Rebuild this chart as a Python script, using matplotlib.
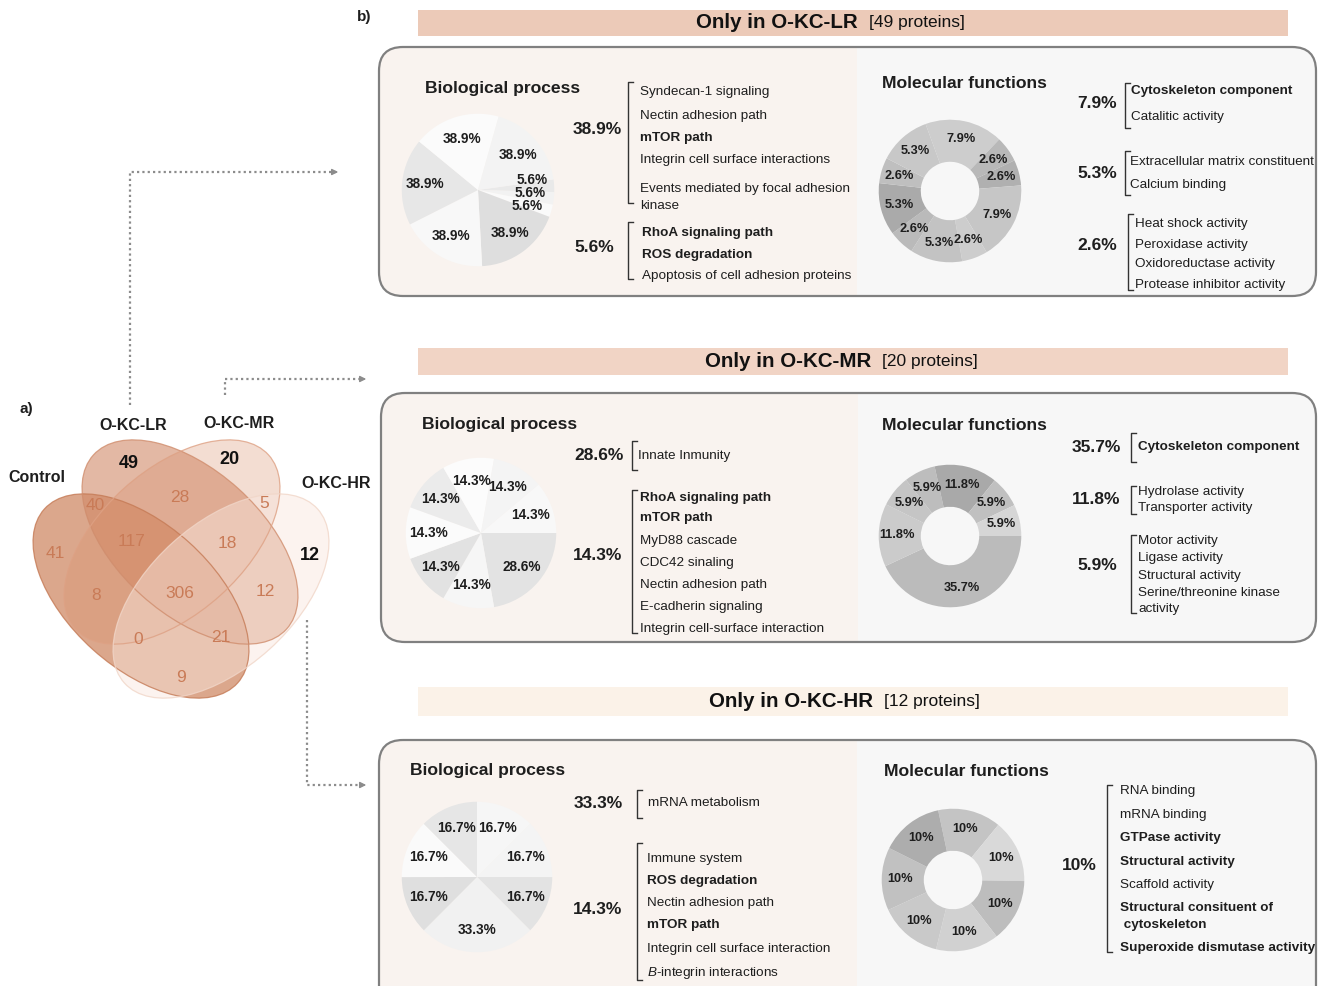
import matplotlib
matplotlib.use("Agg")
import matplotlib.pyplot as plt
from matplotlib.patches import Ellipse, FancyBboxPatch, Rectangle

plt.rcParams["font.family"] = ["Liberation Sans", "DejaVu Sans"]
plt.rcParams["mathtext.fontset"] = "custom"
plt.rcParams["mathtext.rm"] = "Liberation Sans"
plt.rcParams["mathtext.it"] = "Liberation Sans:italic"

W, H = 1318, 986

# ---------------- data ----------------
venn_sets = ["Control", "O-KC-LR", "O-KC-MR", "O-KC-HR"]
venn_only = [41, 49, 20, 12]
venn_shared = [40, 28, 5, 117, 18, 8, 306, 12, 0, 21, 9]

groups = ["O-KC-LR", "O-KC-MR", "O-KC-HR"]
group_n = [49, 20, 12]

lr_bp_pct = [5.6, 5.6, 5.6, 38.9, 38.9, 38.9, 38.9, 38.9]
lr_mf_pct = [7.9, 2.6, 2.6, 7.9, 2.6, 5.3, 2.6, 5.3, 2.6, 5.3]
mr_bp_pct = [28.6, 14.3, 14.3, 14.3, 14.3, 14.3, 14.3, 14.3]
mr_mf_pct = [35.7, 11.8, 5.9, 5.9, 11.8, 5.9, 5.9]
hr_bp_pct = [16.7, 16.7, 16.7, 33.3, 16.7, 16.7, 16.7]
hr_mf_pct = [10, 10, 10, 10, 10, 10, 10]

# (percentage, [(term, bold)])
lr_bp_terms = [
    (38.9, [("Syndecan-1 signaling", False), ("Nectin adhesion path", False),
            ("mTOR path", True), ("Integrin cell surface interactions", False),
            ("Events mediated by focal adhesion\nkinase", False)]),
    (5.6, [("RhoA signaling path", True), ("ROS degradation", True),
           ("Apoptosis of cell adhesion proteins", False)]),
]
lr_mf_terms = [
    (7.9, [("Cytoskeleton component", True), ("Catalitic activity", False)]),
    (5.3, [("Extracellular matrix constituent", False), ("Calcium binding", False)]),
    (2.6, [("Heat shock activity", False), ("Peroxidase activity", False),
           ("Oxidoreductase activity", False), ("Protease inhibitor activity", False)]),
]
mr_bp_terms = [
    (28.6, [("Innate Inmunity", False)]),
    (14.3, [("RhoA signaling path", True), ("mTOR path", True), ("MyD88 cascade", False),
            ("CDC42 sinaling", False), ("Nectin adhesion path", False),
            ("E-cadherin signaling", False), ("Integrin cell-surface interaction", False)]),
]
mr_mf_terms = [
    (35.7, [("Cytoskeleton component", True)]),
    (11.8, [("Hydrolase activity", False), ("Transporter activity", False)]),
    (5.9, [("Motor activity", False), ("Ligase activity", False), ("Structural activity", False),
           ("Serine/threonine kinase\nactivity", False)]),
]
hr_bp_terms = [
    (33.3, [("mRNA metabolism", False)]),
    (14.3, [("Immune system", False), ("ROS degradation", True), ("Nectin adhesion path", False),
            ("mTOR path", True), ("Integrin cell surface interaction", False),
            (r"$\mathit{B}$-integrin interactions", False)]),
]
hr_mf_terms = [
    (10, [("RNA binding", False), ("mRNA binding", False), ("GTPase activity", True),
          ("Structural activity", True), ("Scaffold activity", False),
          ("Structural consituent of\n cytoskeleton", True),
          ("Superoxide dismutase activity", True)]),
]

# ---------------- styles / layout ----------------
venn_set_xy = [(37, 478), (133, 426), (239, 423), (336, 484)]
venn_only_xy = [(55, 553), (129, 464), (229, 460), (310, 556)]
venn_shared_xy = [(95, 506), (180, 497), (264, 503), (132, 542), (227, 543), (96, 596),
                  (180, 593), (265, 592), (138, 640), (221, 638), (181, 678)]
# ellipse centre, semi-axes, angle, fill, alpha, edge
venn_shapes = [
    ((141, 596), 130, 72, 42, "#cd8560", 0.72, "#c57a55"),
    ((190, 542), 130, 72, 42, "#d18a68", 0.60, "#d08d6d"),
    ((172, 542), 130, 72, -42, "#d9906c", 0.30, "#dea184"),
    ((221, 596), 130, 72, -42, "#f9e7df", 0.47, "#f1d6c8"),
]
venn_num_color = "#c97b57"

lr_bp_cols = ["#e9e9e9", "#f2f2f2", "#fafafa", "#dedede", "#f8f8f8", "#e7e7e7", "#fbfbfb", "#f3f3f3"]
lr_mf_cols = ["#cdcdcd", "#b8b8b8", "#b0b0b0", "#c6c6c6", "#cdcdcd", "#c3c3c3", "#bababa",
              "#aaaaaa", "#bfbfbf", "#c8c8c8"]
mr_bp_cols = ["#e3e3e3", "#f6f6f6", "#e2e2e2", "#fbfbfb", "#ebebeb", "#fcfcfc", "#f4f4f4", "#f8f8f8"]
mr_mf_cols = ["#bbbbbb", "#cbcbcb", "#c5c5c5", "#bdbdbd", "#a9a9a9", "#c0c0c0", "#d6d6d6"]
hr_bp_cols = ["#f6f6f6", "#f4f4f4", "#e3e3e3", "#f1f1f1", "#dfdfdf", "#fafafa", "#e6e6e6"]
hr_mf_cols = ["#c4c4c4", "#d9d9d9", "#bdbdbd", "#d1d1d1", "#c9c9c9", "#c1c1c1", "#adadad"]

header_cols = ["#eccab8", "#f1d4c5", "#fbf2e8"]

# text block layout: pct xy, bracket x, bracket y0/y1, text x, item ys
lr_bp_lay = [((597, 129), 628, 82, 203, 640, [92, 116, 138, 160, 197.5]),
             ((594, 248), 628, 222, 279, 642, [233, 255, 276])]
lr_mf_lay = [((1097, 104), 1125, 83, 128, 1131, [91, 117]),
             ((1097, 173), 1125, 151, 195, 1130, [162, 185]),
             ((1097, 245), 1128, 214, 290, 1135, [224, 245, 264, 285])]
mr_bp_lay = [((599, 455), 632, 441, 470, 638, [456]),
             ((598, 556), 632, 490, 633, 640, [498, 518, 541, 563, 585, 607, 629])]
mr_mf_lay = [((1096, 447), 1131, 433, 462, 1138, [447]),
             ((1096, 500), 1131, 486, 514, 1138, [492, 508]),
             ((1097, 566), 1131, 535, 613, 1138, [541, 558, 576, 601])]
hr_bp_lay = [((598, 803), 637, 790, 818, 648, [803]),
             ((598, 909), 637, 843, 980, 647, [859, 881, 903, 925, 949, 973])]
hr_mf_lay = [((1079, 866), 1107, 785, 952, 1120, [791, 815, 838, 862, 885, 916.5, 948])]

TXT = "#1e1e1e"

fig = plt.figure(figsize=(W / 100, H / 100), dpi=100)
ax = fig.add_axes([0, 0, 1, 1])
ax.set_xlim(0, W)
ax.set_ylim(H, 0)
ax.axis("off")


def draw_pie(cx, cy, r, values, colors, start, hole=None, ldist=0.7, fs=9.8):
    pax = fig.add_axes([(cx - r) / W, 1 - (cy + r) / H, 2 * r / W, 2 * r / H])
    wp = dict(linewidth=0)
    if hole:
        wp["width"] = 1 - hole
    _, texts = pax.pie(values, labels=[f"{v:g}%" for v in values], colors=colors,
                       startangle=start, counterclock=False, labeldistance=ldist,
                       wedgeprops=wp,
                       textprops=dict(ha="center", va="center", fontsize=fs,
                                      fontweight="bold", color=TXT))
    pax.set_xlim(-1.01, 1.01)
    pax.set_ylim(-1.01, 1.01)
    pax.axis("off")
    return texts


def draw_terms(blocks, layout, pct_size=12.5, term_size=9.7):
    for (pct, items), (pxy, bx, y0, y1, tx, ys) in zip(blocks, layout):
        ax.text(pxy[0], pxy[1], f"{pct:g}%", fontsize=pct_size, fontweight="bold",
                ha="center", va="center", color=TXT)
        ax.plot([bx + 5, bx, bx, bx + 5], [y0, y0, y1, y1], color="#333333", lw=1.0)
        for (term, bold), y in zip(items, ys):
            ax.text(tx, y, term, fontsize=term_size, fontweight="bold" if bold else "normal",
                    ha="left", va="center", color=TXT, linespacing=1.45)


def draw_panel(i, bar_y, box, divider, bp_xy, mf_xy):
    # header strip
    ax.add_patch(Rectangle((418, bar_y[0]), 870, bar_y[1] - bar_y[0],
                           facecolor=header_cols[i], edgecolor="none"))
    yc = (bar_y[0] + bar_y[1]) / 2
    split = [864, 877, 879][i]
    ax.text(split - 6, yc, f"Only in {groups[i]}", fontsize=14.8, fontweight="bold",
            ha="right", va="center", color="#111111")
    ax.text(split + 5, yc, f"[{group_n[i]} proteins]", fontsize=12.5,
            ha="left", va="center", color="#111111")
    # rounded frame with two tinted halves
    x0, y0, x1, y1 = box
    frame = FancyBboxPatch((x0, y0), x1 - x0, y1 - y0,
                           boxstyle="round,pad=0,rounding_size=24",
                           facecolor="#f7f7f7", edgecolor="none")
    ax.add_patch(frame)
    left = Rectangle((x0, y0), divider - x0, y1 - y0, facecolor="#f9f3ef", edgecolor="none")
    ax.add_patch(left)
    left.set_clip_path(frame)
    ax.add_patch(FancyBboxPatch((x0, y0), x1 - x0, y1 - y0,
                                boxstyle="round,pad=0,rounding_size=24",
                                facecolor="none", edgecolor="#808080", lw=1.6))
    ax.text(bp_xy[0], bp_xy[1], "Biological process", fontsize=12.6, fontweight="bold",
            ha="left", va="center", color=TXT)
    ax.text(mf_xy[0], mf_xy[1], "Molecular functions", fontsize=12.6, fontweight="bold",
            ha="left", va="center", color=TXT)


# ---- panel b) ----
ax.text(357, 17, "b)", fontsize=11, fontweight="bold", ha="left", va="center", color=TXT)

draw_panel(0, (10, 36), (379, 47, 1316, 296), 857, (425, 88), (882, 84))
draw_panel(1, (348, 375), (381, 393, 1316, 642), 858, (422, 425), (882, 425))
draw_panel(2, (687, 716), (379, 740, 1316, 1010), 857, (410, 771), (884, 771))

lr_texts = draw_pie(478, 190, 77, lr_bp_pct, lr_bp_cols, 8)
# the three thin slices: stack their labels so they do not collide
for k, t in enumerate(lr_texts[:3]):
    t.set_position((0.71 - 0.03 * k, 0.13 - 0.17 * k))
draw_pie(950, 191, 72, lr_mf_pct, lr_mf_cols, 110, hole=0.41, ldist=0.74, fs=9.2)
draw_pie(481, 533, 76, mr_bp_pct, mr_bp_cols, 0)
draw_pie(950, 536, 72, mr_mf_pct, mr_mf_cols, 0, hole=0.41, ldist=0.74, fs=9.2)
draw_pie(477, 877, 76, hr_bp_pct, hr_bp_cols, 90)
draw_pie(953, 880, 72, hr_mf_pct, hr_mf_cols, 102, hole=0.41, ldist=0.74, fs=9.2)

draw_terms(lr_bp_terms, lr_bp_lay)
draw_terms(lr_mf_terms, lr_mf_lay)
draw_terms(mr_bp_terms, mr_bp_lay)
draw_terms(mr_mf_terms, mr_mf_lay)
draw_terms(hr_bp_terms, hr_bp_lay)
draw_terms(hr_mf_terms, hr_mf_lay)

# ---- panel a) Venn ----
ax.text(20, 409, "a)", fontsize=11, fontweight="bold", ha="left", va="center", color=TXT)
for (xy, a, b, ang, col, alpha, edge) in venn_shapes:
    ax.add_patch(Ellipse(xy, 2 * a, 2 * b, angle=ang, facecolor=col, alpha=alpha,
                         edgecolor="none"))
for (xy, a, b, ang, col, alpha, edge) in venn_shapes:
    ax.add_patch(Ellipse(xy, 2 * a, 2 * b, angle=ang, facecolor="none",
                         edgecolor=edge, lw=0.9, alpha=0.8))

for name, (x, y) in zip(venn_sets, venn_set_xy):
    ax.text(x, y, name, fontsize=11.5, fontweight="bold", ha="center", va="center", color=TXT)
for k, (n, (x, y)) in enumerate(zip(venn_only, venn_only_xy)):
    if k == 0:
        ax.text(x, y, str(n), fontsize=12.5, ha="center", va="center", color=venn_num_color)
    else:
        ax.text(x, y, str(n), fontsize=13, fontweight="bold", ha="center", va="center",
                color="#111111")
for n, (x, y) in zip(venn_shared, venn_shared_xy):
    ax.text(x, y, str(n), fontsize=12.5, ha="center", va="center", color=venn_num_color)

# dotted connectors from the Venn to the panels
conn = [([130, 130, 336], [405, 172, 172]),
        ([225, 225, 364], [395, 379, 379]),
        ([307, 307, 364], [620, 785, 785])]
for xs, ys in conn:
    ax.plot(xs, ys, color="#8c8c8c", lw=1.6, linestyle=(0, (1, 1.4)))
    ax.annotate("", xy=(xs[-1] + 5, ys[-1]), xytext=(xs[-1] - 4, ys[-1]),
                arrowprops=dict(arrowstyle="-|>", color="#8c8c8c", lw=1.0,
                                mutation_scale=9))

fig.savefig("out.png", dpi=100)
